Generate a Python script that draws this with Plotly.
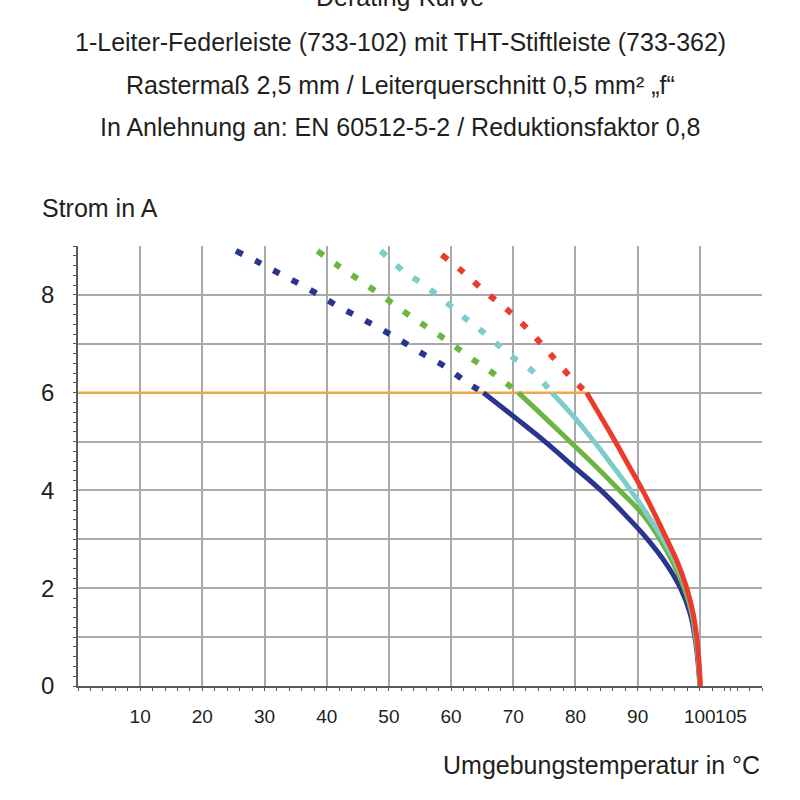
import plotly.graph_objects as go

# ---- data ----
title_lines = [
    "Derating-Kurve",
    "1-Leiter-Federleiste (733-102) mit THT-Stiftleiste (733-362)",
    "Rastermaß 2,5 mm / Leiterquerschnitt 0,5 mm² „f“",
    "In Anlehnung an: EN 60512-5-2 / Reduktionsfaktor 0,8",
]
y_title = "Strom in A"
x_title = "Umgebungstemperatur in °C"

x_tick_vals = [10, 20, 30, 40, 50, 60, 70, 80, 90, 100, 105]
x_tick_text = ["10", "20", "30", "40", "50", "60", "70", "80", "90", "100", "105"]
x_grid_vals = [10, 20, 30, 40, 50, 60, 70, 80, 90, 100, 110]
y_tick_vals = [0, 1, 2, 3, 4, 5, 6, 7, 8, 9]
y_tick_text = ["0", "", "2", "", "4", "", "6", "", "8", ""]

limit_x = [0, 81.8]
limit_y = [6, 6]

blue_dash_x = [25.4, 29.0, 32.2, 35.1, 38.5, 41.9, 45.4, 48.9, 52.4, 55.9, 59.2, 62.5, 65.2]
blue_dash_y = [8.90, 8.67, 8.45, 8.26, 8.02, 7.76, 7.53, 7.29, 7.03, 6.76, 6.52, 6.21, 6.0]
green_dash_x = [38.5, 42.1, 45.4, 48.9, 52.4, 55.9, 59.3, 62.8, 66.2, 70.8]
green_dash_y = [8.90, 8.57, 8.29, 7.98, 7.66, 7.36, 7.07, 6.74, 6.45, 6.0]
cyan_dash_x = [48.7, 52.3, 55.7, 59.2, 62.6, 66.0, 69.5, 73.0, 76.2]
cyan_dash_y = [8.90, 8.49, 8.20, 7.85, 7.49, 7.15, 6.76, 6.45, 6.0]
red_dash_x = [58.5, 62.1, 65.5, 69.0, 72.4, 75.8, 79.2, 81.8]
red_dash_y = [8.82, 8.45, 8.06, 7.70, 7.29, 6.81, 6.32, 6.0]

curve_y = [6, 5.5, 5, 4.5, 4, 3.5, 3, 2.5, 2, 1.5, 1, 0.5, 0]
blue_x = [65.2, 70.2, 75.1, 79.6, 84.1, 88.0, 91.6, 94.6, 96.9, 98.4, 99.2, 99.7, 100.0]
green_x = [70.8, 75.0, 79.1, 83.2, 87.1, 90.9, 93.6, 95.8, 97.5, 98.7, 99.3, 99.8, 100.0]
cyan_x = [76.2, 79.8, 83.0, 86.0, 88.9, 91.6, 94.1, 96.2, 97.8, 98.8, 99.4, 99.8, 100.0]
red_x = [81.8, 84.1, 86.4, 88.6, 90.8, 92.8, 94.7, 96.5, 97.9, 98.9, 99.5, 99.85, 100.1]

# ---- style ----
FONT = "Liberation Sans, Arial, sans-serif"
TXT = "#231f20"
GRID = "#a9a9a9"
AXIS = "#5a5a5a"
c_blue = "#2b3590"
c_green = "#6bb540"
c_cyan = "#7dcdcb"
c_red = "#ec3a2b"
c_orange = "#f6a63c"

fig = go.Figure()

fig.add_trace(go.Scatter(x=limit_x, y=limit_y, mode="lines",
                         line=dict(color=c_orange, width=2.2), hoverinfo="skip"))

for dx, dy, col in [(blue_dash_x, blue_dash_y, c_blue), (green_dash_x, green_dash_y, c_green),
                    (cyan_dash_x, cyan_dash_y, c_cyan), (red_dash_x, red_dash_y, c_red)]:
    fig.add_trace(go.Scatter(x=dx, y=dy, mode="lines", line_shape="spline",
                             line=dict(color=col, width=6, dash="7px,14px"), hoverinfo="skip"))

for cx, col in [(blue_x, c_blue), (green_x, c_green), (cyan_x, c_cyan), (red_x, c_red)]:
    fig.add_trace(go.Scatter(x=cx, y=curve_y, mode="lines", line_shape="spline",
                             line=dict(color=col, width=5, smoothing=1.2), hoverinfo="skip"))

# invisible trace on overlay axis for vertical grid
fig.add_trace(go.Scatter(x=[0], y=[0], xaxis="x2", mode="markers",
                         marker=dict(opacity=0), hoverinfo="skip"))

fig.update_layout(
    width=800, height=800,
    margin=dict(l=78, r=38, t=246, b=114),
    paper_bgcolor="white", plot_bgcolor="white",
    showlegend=False,
    font=dict(family=FONT, color=TXT, size=22),
    xaxis=dict(range=[0, 110], tickvals=x_tick_vals, ticktext=x_tick_text, tickangle=0,
               showgrid=False, zeroline=False, showline=True, linecolor=AXIS, linewidth=1.5,
               ticks="outside", ticklen=3, tickcolor=AXIS,
               minor=dict(dtick=2, ticks="outside", ticklen=3, tickcolor=AXIS),
               tickfont=dict(size=19, family=FONT, color=TXT),
               ticklabelstandoff=9),
    xaxis2=dict(range=[0, 110], overlaying="x", tickvals=x_grid_vals, showticklabels=False,
                showgrid=True, gridcolor=GRID, gridwidth=1.6, zeroline=False, ticks="",
                layer="below traces"),
    yaxis=dict(range=[0, 9], tickvals=y_tick_vals, ticktext=y_tick_text,
               showgrid=True, gridcolor=GRID, gridwidth=1.6, zeroline=False,
               showline=True, linecolor=AXIS, linewidth=1.5,
               ticks="outside", ticklen=3, tickcolor=AXIS,
               minor=dict(dtick=0.2, ticks="outside", ticklen=3, tickcolor=AXIS),
               tickfont=dict(size=24, family=FONT, color=TXT),
               ticklabelstandoff=14),
)

title_y_px = [-3, 42, 85, 127]
for txt, ypx in zip(title_lines, title_y_px):
    fig.add_annotation(text=txt, xref="paper", yref="paper", x=(400 - 78) / 684,
                       xanchor="center", yanchor="middle", showarrow=False,
                       y=1 + (246 - ypx) / 440, font=dict(size=25, family=FONT, color=TXT))

fig.add_annotation(text=y_title, xref="paper", yref="paper", x=(40 - 78) / 684, xanchor="left",
                   y=1 + (246 - 208) / 440, yanchor="middle", showarrow=False,
                   font=dict(size=25, family=FONT, color=TXT))
fig.add_annotation(text=x_title, xref="paper", yref="paper", x=1.0, xanchor="right",
                   y=(686 - 765) / 440, yanchor="middle", showarrow=False,
                   font=dict(size=25, family=FONT, color=TXT))

fig.write_html("out.html")
